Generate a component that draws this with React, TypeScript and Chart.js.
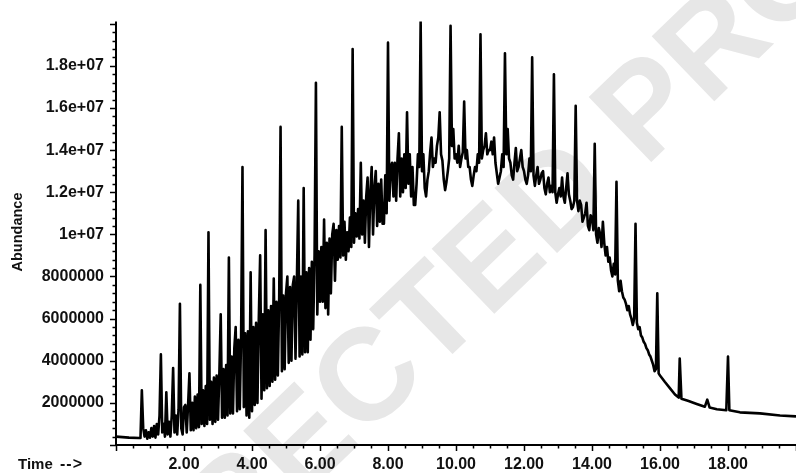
import React, { useEffect, useRef } from "react";
import { Chart, registerables } from "chart.js";

Chart.register(...registerables);

// Abundance values are given in millions (UNIT).
const UNIT = 1e6;

// Flat baseline before the first eluting peak (time in minutes)
const START_TIMES = [0, 0.38, 0.68, 0.72];
const START_VALUES = [0.4, 0.35, 0.33, 0.33];

// Dense, noisy early region: sampled every 0.04 min from 0.76 min
const DENSE_START = 0.76;
const DENSE_STEP = 0.04;
const DENSE_VALUES = [
  2.6, 0.8, 0.4, 0.7, 0.3, 0.6, 0.35, 0.8, 0.4, 0.9,
  0.35, 1.0, 0.5, 1.4, 4.3, 0.6, 1.0, 0.4, 2.5, 0.5,
  1.1, 0.4, 1.4, 3.65, 0.6, 1.4, 0.5, 1.7, 6.7, 0.8,
  0.5, 1.8, 1.9, 0.6, 1.9, 3.4, 0.7, 2.0, 0.7, 2.3,
  0.8, 2.4, 0.85, 7.6, 1.0, 2.6, 0.9, 2.8, 1.0, 10.1,
  1.2, 3.0, 1.0, 3.2, 1.1, 3.3, 1.2, 3.4, 6.2, 1.3,
  3.6, 1.3, 3.8, 1.4, 8.9, 1.5, 4.2, 1.5, 4.6, 5.6,
  1.6, 5.0, 1.7, 5.2, 13.2, 1.8, 5.3, 1.4, 5.4, 1.3,
  8.2, 1.6, 5.6, 1.9, 5.8, 2.0, 6.0, 9.0, 2.2, 6.2,
  2.6, 10.2, 2.7, 6.4, 2.8, 6.6, 3.0, 7.9, 3.1, 6.8,
  3.3, 7.0, 15.1, 3.5, 7.1, 3.6, 7.2, 8.0, 3.9, 7.5,
  4.0, 7.6, 8.0, 4.1, 7.8, 11.6, 4.2, 8.0, 4.3, 12.2,
  4.4, 8.2, 4.4, 8.4, 5.0, 8.7, 5.5, 9.0, 17.2, 6.2,
  9.2, 6.8, 9.4, 6.8, 10.7, 6.5, 9.6, 6.2, 9.8, 7.2,
  10.0, 10.5, 7.8, 10.2, 8.8, 10.4, 8.9, 15.1, 9.0, 10.6,
  8.8, 10.1, 9.2, 10.8, 9.4, 18.8, 9.6, 11.0, 9.9, 11.2,
  9.8, 13.4, 10.0, 11.6, 9.6, 11.8, 12.7, 9.4, 12.0, 13.2,
  10.0, 12.2, 13.0, 10.4, 12.4, 10.6, 12.6, 10.5, 10.5, 12.8,
  11.0, 19.1, 11.6, 13.2, 13.4, 11.8, 13.4, 11.6, 13.6, 14.8,
  11.8, 13.6, 12.0, 13.8, 12.2, 15.8, 12.4, 13.8, 11.8, 13.2,
  11.4,
];

// Middle region: sampled every 0.04 min from 8.80 min
const MID_START = 8.8;
const MID_STEP = 0.04;
const MID_VALUES = [
  11.4, 12.4, 13.8, 13.2, 20.1, 13.0, 13.8, 12.2, 11.8, 12.6,
  13.0, 13.9, 14.6, 13.2, 13.6, 13.4, 14.2, 14.6, 15.8, 13.8,
  13.5, 12.6, 12.1, 12.5, 13.0, 13.6, 19.9, 14.2, 15.0, 13.6,
  13.8, 13.4, 14.2, 13.2, 13.6, 13.9, 16.3, 13.6, 14.0, 13.2,
  13.2, 12.6, 12.3, 12.8, 13.2, 13.0, 13.8, 13.4, 19.5, 13.6,
  14.0, 14.2, 14.8, 13.8, 14.0, 14.0, 14.4, 13.8, 14.6, 13.4,
  12.9, 12.4, 12.7, 13.0, 13.8, 13.2, 18.6, 13.8, 15.0, 13.6,
  13.4, 12.8, 12.6, 13.4, 14.1, 13.0, 13.2, 13.6, 14.0, 13.2,
  13.0, 12.6, 12.4, 12.8, 13.6, 13.0, 18.4, 12.8, 12.3, 12.8,
  13.2, 12.4, 12.6, 12.9, 13.0, 12.2, 11.9, 12.4, 12.7, 12.0,
  12.3, 12.0, 17.6, 12.0, 11.5, 11.9, 12.2, 11.8, 12.7, 11.8,
  11.5, 12.2, 12.9, 11.9, 11.6, 11.2, 11.3, 11.6, 16.1, 11.6,
  11.1, 11.6, 11.4, 10.6, 10.8, 11.0, 11.5, 10.4, 10.2, 10.9,
  10.8, 10.2, 14.3, 10.0, 9.6, 10.3, 10.0, 9.4, 10.6, 9.6,
  9.0, 9.4, 8.7, 8.9, 8.3, 8.0, 8.6, 8.1, 12.5, 7.8,
  7.3, 7.8, 7.3, 7.0, 6.9, 6.7, 6.4, 6.6, 6.2, 6.0,
  5.7, 6.0, 10.5, 5.8, 5.5, 5.6, 5.2, 5.1, 4.9, 4.8,
  4.6, 4.5, 4.3, 4.2, 4.0, 3.8, 3.5, 3.6, 7.2, 3.4,
  3.3,
];

// Late tail with a few isolated peaks
const TAIL_TIMES = [16.14, 16.29, 16.44, 16.55, 16.58, 16.63, 16.82, 17.08, 17.32, 17.39, 17.46, 17.67, 17.95, 18.0, 18.04, 18.35, 18.94, 19.53, 20.0];
const TAIL_VALUES = [3.0, 2.7, 2.4, 2.25, 4.1, 2.2, 2.1, 1.95, 1.82, 2.15, 1.78, 1.7, 1.65, 4.2, 1.65, 1.55, 1.5, 1.4, 1.36];

const X_TICKS = [2, 4, 6, 8, 10, 12, 14, 16, 18];
const Y_TICKS = [2e6, 4e6, 6e6, 8e6, 1e7, 1.2e7, 1.4e7, 1.6e7, 1.8e7];
const X_MIN = 0;
const X_MAX = 20;
const Y_MIN = 0;
const Y_MAX = 20.1e6;
const X_MINOR_STEP = 0.5;
const Y_MINOR_STEP = 0.4e6;

const X_TITLE_WORD = "Time";
const X_TITLE_ARROW = "-->";
const Y_TITLE = "Abundance";
const WATERMARK = "CORRECTED PROOF";

const FONT_FAMILY = '"Liberation Sans", Arial, sans-serif';

function buildPoints() {
  const pts: { x: number; y: number }[] = [];
  START_TIMES.forEach((t, i) => pts.push({ x: t, y: START_VALUES[i] * UNIT }));
  DENSE_VALUES.forEach((v, i) => pts.push({ x: DENSE_START + i * DENSE_STEP, y: v * UNIT }));
  MID_VALUES.forEach((v, i) => pts.push({ x: MID_START + i * MID_STEP, y: v * UNIT }));
  TAIL_TIMES.forEach((t, i) => pts.push({ x: t, y: TAIL_VALUES[i] * UNIT }));
  return pts;
}

function fmtY(v: number) {
  if (v >= 1e7) return `${+(v / 1e7).toFixed(1)}e+07`;
  return String(Math.round(v));
}

const decoPlugin = {
  id: "deco",
  beforeDraw(chart: any) {
    const ctx = chart.ctx;
    ctx.save();
    ctx.translate(476, 281);
    ctx.rotate((-44 * Math.PI) / 180);
    ctx.font = `bold 131px ${FONT_FAMILY}`;
    ctx.fillStyle = "#e7e7e7";
    ctx.textAlign = "center";
    ctx.textBaseline = "middle";
    ctx.fillText(WATERMARK, 0, 0);
    ctx.restore();
  },
  afterDraw(chart: any) {
    const ctx = chart.ctx;
    const area = chart.chartArea;
    const xs = chart.scales.x;
    const ys = chart.scales.y;
    ctx.save();
    ctx.strokeStyle = "#000";
    ctx.lineWidth = 2;
    ctx.beginPath();
    ctx.moveTo(area.left, area.top);
    ctx.lineTo(area.left, area.bottom);
    ctx.lineTo(area.right, area.bottom);
    ctx.stroke();
    ctx.lineWidth = 1.5;
    ctx.beginPath();
    for (let k = 0; k * X_MINOR_STEP <= X_MAX + 1e-9; k++) {
      const v = k * X_MINOR_STEP;
      const px = Math.round(xs.getPixelForValue(v)) + 0.5;
      const major = Math.abs(v % 2) < 1e-9;
      ctx.moveTo(px, area.bottom);
      ctx.lineTo(px, area.bottom + (major ? 6 : 3.5));
    }
    for (let k = 0; k * Y_MINOR_STEP <= Y_MAX + 1; k++) {
      const v = k * Y_MINOR_STEP;
      const py = Math.round(ys.getPixelForValue(v)) + 0.5;
      const major = Math.abs(v / 2e6 - Math.round(v / 2e6)) < 1e-6;
      ctx.moveTo(area.left, py);
      ctx.lineTo(area.left - (major ? 6 : 3.5), py);
    }
    ctx.stroke();

    ctx.fillStyle = "#111";
    ctx.font = `bold 15px ${FONT_FAMILY}`;
    ctx.textBaseline = "middle";
    ctx.textAlign = "left";
    ctx.fillText(X_TITLE_WORD, 18, 465);
    (ctx as any).letterSpacing = "1px";
    ctx.font = `bold 16px ${FONT_FAMILY}`;
    ctx.fillText(X_TITLE_ARROW, 60, 465);
    (ctx as any).letterSpacing = "0px";

    ctx.save();
    ctx.translate(18, 232);
    ctx.rotate(-Math.PI / 2);
    ctx.textAlign = "center";
    ctx.font = `bold 14.5px ${FONT_FAMILY}`;
    ctx.fillText(Y_TITLE, 0, 0);
    ctx.restore();
    ctx.restore();
  },
};

export default function App() {
  const ref = useRef<HTMLCanvasElement | null>(null);

  useEffect(() => {
    if (!ref.current) return;
    const tickFont = { family: FONT_FAMILY, size: 16, weight: "bold" as const };
    const chart = new Chart(ref.current, {
      type: "line",
      data: {
        datasets: [
          {
            data: buildPoints(),
            borderColor: "#000",
            borderWidth: 2.6,
            pointRadius: 0,
            tension: 0,
            fill: false,
            borderJoinStyle: "round",
          },
        ],
      },
      options: {
        animation: false,
        responsive: false,
        maintainAspectRatio: false,
        parsing: false as any,
        normalized: true,
        layout: { padding: { top: 15, left: 0, right: 0, bottom: 0 } },
        plugins: { legend: { display: false }, tooltip: { enabled: false } },
        scales: {
          x: {
            type: "linear",
            min: X_MIN,
            max: X_MAX,
            grid: { display: false, drawTicks: false },
            border: { display: false },
            afterFit: (s: any) => {
              s.height = 28;
            },
            afterBuildTicks: (s: any) => {
              s.ticks = X_TICKS.map((v) => ({ value: v }));
            },
            ticks: {
              padding: 10,
              color: "#111",
              font: tickFont,
              maxRotation: 0,
              autoSkip: false,
              callback: (v: any) => Number(v).toFixed(2),
            },
          },
          y: {
            type: "linear",
            min: Y_MIN,
            max: Y_MAX,
            grid: { display: false, drawTicks: false },
            border: { display: false },
            afterFit: (s: any) => {
              s.width = 116;
            },
            afterBuildTicks: (s: any) => {
              s.ticks = Y_TICKS.map((v) => ({ value: v }));
            },
            ticks: {
              padding: 12,
              color: "#111",
              font: tickFont,
              autoSkip: false,
              callback: (v: any) => fmtY(Number(v)),
            },
          },
        },
      },
      plugins: [decoPlugin],
    });
    return () => chart.destroy();
  }, []);

  return (
    <div style={{ position: "fixed", left: 0, top: 0, width: 796, height: 473, background: "#fff" }}>
      <canvas ref={ref} width={796} height={473} style={{ display: "block" }} />
    </div>
  );
}
